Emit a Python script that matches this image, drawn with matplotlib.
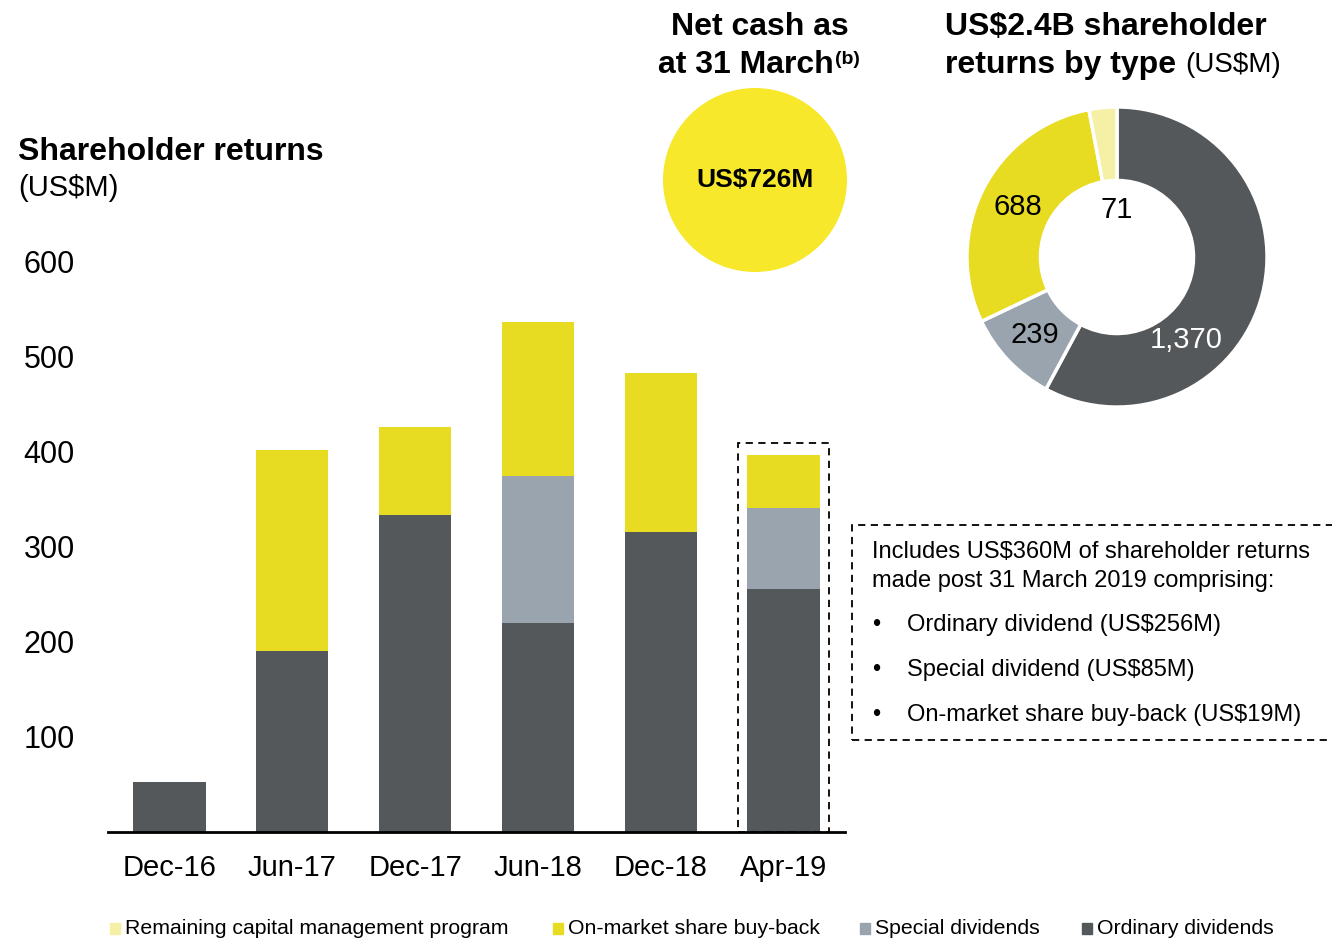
"""
Shareholder returns chart: stacked bars + net cash bubble + returns-by-type donut
"""

import matplotlib
matplotlib.use('Agg')
import matplotlib.pyplot as plt
from matplotlib.patches import Rectangle, Circle

# ============================================================================
# Data
# ============================================================================
periods = ['Dec-16', 'Jun-17', 'Dec-17', 'Jun-18', 'Dec-18', 'Apr-19']
ordinary = [53, 190, 333, 220, 316, 256]
special = [0, 0, 0, 155, 0, 85]
buyback = [0, 212, 93, 162, 167, 56]
y_ticks = [100, 200, 300, 400, 500, 600]

donut_labels = ['1,370', '239', '688', '71']
donut_values = [1370, 239, 688, 71]

legend_labels = ['Remaining capital management program', 'On-market share buy-back',
                 'Special dividends', 'Ordinary dividends']

net_cash = 'US$726M'
note_lines = ['Includes US$360M of shareholder returns',
              'made post 31 March 2019 comprising:']
note_bullets = ['Ordinary dividend (US$256M)',
                'Special dividend (US$85M)',
                'On-market share buy-back (US$19M)']

# ============================================================================
# Style
# ============================================================================
DARK = '#54585a'
GREY = '#99a4ae'
YELLOW = '#e8dc22'
LIGHT = '#f6efa6'
BUBBLE = '#f7e82c'

plt.rcParams['font.family'] = ['Liberation Sans', 'DejaVu Sans']

W, H = 1332, 939
fig = plt.figure(figsize=(W / 100, H / 100), dpi=100)


def fx(px):
    return px / W


def fy(py):
    # pixel y measured from top
    return 1 - py / H


# ============================================================================
# Bar chart
# ============================================================================
ax = fig.add_axes([fx(108), fy(832), fx(845 - 108), (832 - 255) / H])
x = range(len(periods))
bw = 0.59
ax.bar(x, ordinary, width=bw, color=DARK, linewidth=0)
ax.bar(x, special, width=bw, bottom=ordinary, color=GREY, linewidth=0)
base2 = [o + s for o, s in zip(ordinary, special)]
ax.bar(x, buyback, width=bw, bottom=base2, color=YELLOW, linewidth=0)

ax.set_xlim(-0.5, 5.5)
ax.set_ylim(0, 607)
ax.set_yticks(y_ticks)
ax.set_yticklabels([str(t) for t in y_ticks], fontsize=22)
ax.set_xticks(list(x))
ax.set_xticklabels(periods, fontsize=21)
ax.tick_params(axis='y', length=0, pad=24)
ax.tick_params(axis='x', length=0, pad=16)
for s in ['top', 'right', 'left']:
    ax.spines[s].set_visible(False)
ax.spines['bottom'].set_linewidth(2)

# dashed frame around last bar
last = len(periods) - 1
top_last = ordinary[last] + special[last] + buyback[last]
ax.add_patch(Rectangle((last - 0.37, 0), 0.74, top_last + 12, fill=False,
                       linestyle=(0, (4, 3)), linewidth=1.3, edgecolor='black',
                       clip_on=False))

fig.text(fx(18), fy(152), 'Shareholder returns', fontsize=23, fontweight='bold',
         va='center', ha='left')
fig.text(fx(18), fy(188), '(US$M)', fontsize=21, va='center', ha='left')

# ============================================================================
# Net cash bubble
# ============================================================================
r = 92
bax = fig.add_axes([fx(755 - r), fy(180 + r), fx(2 * r), 2 * r / H])
bax.add_patch(Circle((0, 0), 1, color=BUBBLE, linewidth=0))
bax.set_xlim(-1, 1)
bax.set_ylim(-1, 1)
bax.set_aspect('equal')
bax.axis('off')
bax.text(0, 0, net_cash, ha='center', va='center', fontsize=19, fontweight='bold')

fig.text(fx(760), fy(27), 'Net cash as', fontsize=23, fontweight='bold',
         ha='center', va='center')
fig.text(fx(834), fy(65), 'at 31 March', fontsize=23,
         fontweight='bold', ha='right', va='center')
fig.text(fx(835), fy(60), '(b)', fontsize=14,
         fontweight='bold', ha='left', va='center')

# ============================================================================
# Donut
# ============================================================================
R = 155
dax = fig.add_axes([fx(1117 - R), fy(257 + R), fx(2 * R), 2 * R / H])
dax.pie(donut_values, colors=[DARK, GREY, YELLOW, LIGHT], startangle=90,
        counterclock=False, radius=1,
        wedgeprops=dict(width=0.49, edgecolor='white', linewidth=2.5))
dax.set_xlim(-1.033, 1.033)
dax.set_ylim(-1.033, 1.033)
dax.set_aspect('equal')
label_pos = [(0.46, -0.55), (-0.55, -0.52), (-0.66, 0.33), (0.0, 0.31)]
label_col = ['white', 'black', 'black', 'black']
for txt, (px, py), c in zip(donut_labels, label_pos, label_col):
    dax.text(px, py, txt, ha='center', va='center', fontsize=21, color=c)

fig.text(fx(945), fy(27), 'US$2.4B shareholder', fontsize=23, fontweight='bold',
         ha='left', va='center')
fig.text(fx(945), fy(65), 'returns by type', fontsize=23, fontweight='bold',
         ha='left', va='center')
fig.text(fx(1185), fy(65), '(US$M)', fontsize=20, ha='left', va='center')

# ============================================================================
# Note box
# ============================================================================
fig.patches.append(Rectangle((fx(852), fy(740)), fx(500), (740 - 525) / H,
                             transform=fig.transFigure, fill=False,
                             linestyle=(0, (4, 3)), linewidth=1.3,
                             edgecolor='black', clip_on=False))
for i, line in enumerate(note_lines):
    fig.text(fx(872), fy(552 + 29 * i), line, fontsize=17, ha='left', va='center')
for i, line in enumerate(note_bullets):
    yy = fy(625 + 45 * i)
    fig.text(fx(872), yy, '\u2022', fontsize=17, ha='left', va='center')
    fig.text(fx(907), yy, line, fontsize=17, ha='left', va='center')

# ============================================================================
# Legend
# ============================================================================
leg_x = [110, 553, 860, 1082]
leg_c = [LIGHT, YELLOW, GREY, DARK]
for xx, c, lbl in zip(leg_x, leg_c, legend_labels):
    fig.patches.append(Rectangle((fx(xx), fy(934)), fx(10), 11 / H,
                                 transform=fig.transFigure, color=c))
    fig.text(fx(xx + 15), fy(928), lbl, fontsize=15.3, ha='left', va='center')

fig.savefig('out.png', dpi=100)
